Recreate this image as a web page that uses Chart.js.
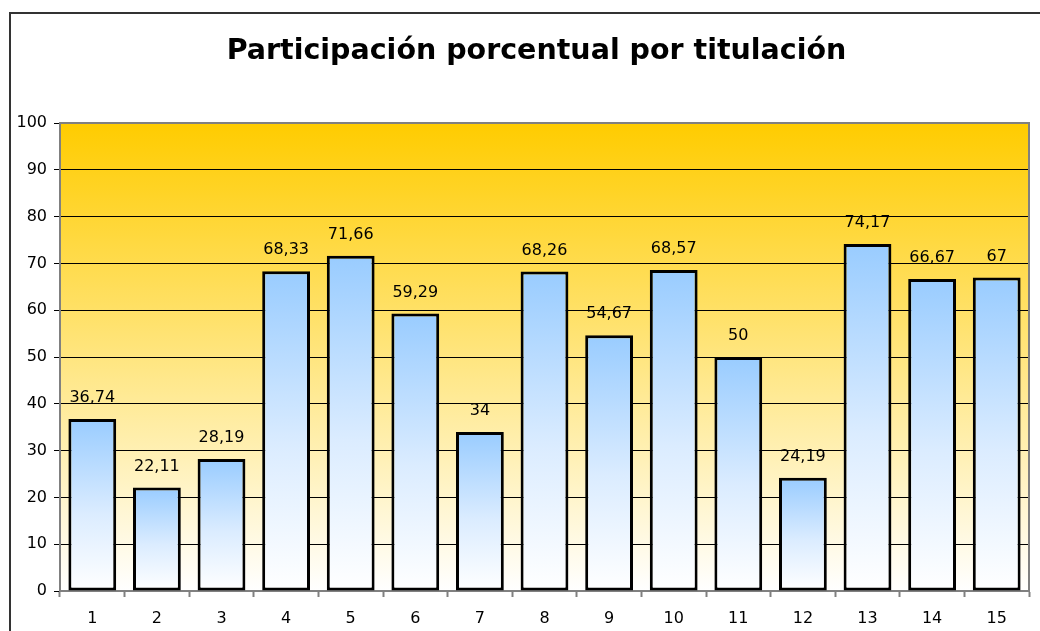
<!DOCTYPE html>
<html>
<head>
<meta charset="utf-8">
<script src="https://cdn.jsdelivr.net/npm/chart.js@4.4.1/dist/chart.umd.min.js"></script>
<style>
  html, body { margin: 0; padding: 0; background: #fff; overflow: hidden; }
</style>
</head>
<body>
<canvas id="chart" width="1040" height="631"></canvas>
<script>
// --- Data ---
const chartTitle = 'Participación porcentual por titulación';
const categories = ['1', '2', '3', '4', '5', '6', '7', '8', '9', '10', '11', '12', '13', '14', '15'];
const values = [36.74, 22.11, 28.19, 68.33, 71.66, 59.29, 34, 68.26, 54.67, 68.57, 50, 24.19, 74.17, 66.67, 67];
const yMin = 0;
const yMax = 100;
const yStep = 10;

const FONT = 'DejaVu Sans, Verdana, sans-serif';

// value labels use a decimal comma
const fmt = v => String(v).replace('.', ',');

// --- Plugins ---
const framePlugin = {
    id: 'frame',
    beforeDraw(chart) {
        const { ctx, chartArea: a } = chart;
        ctx.save();
        ctx.fillStyle = '#fff';
        ctx.fillRect(0, 0, chart.width, chart.height);
        // outer chart border (runs off the picture on right / bottom)
        ctx.strokeStyle = '#333';
        ctx.lineWidth = 2;
        ctx.strokeRect(10, 13, 1200, 800);
        // title, centred a bit right of the canvas like the original
        ctx.font = 'bold 28.5px ' + FONT;
        ctx.fillStyle = '#000';
        ctx.textAlign = 'center';
        ctx.textBaseline = 'middle';
        ctx.fillText(chartTitle, 536.5, 52);
        // plot area gradient
        const g = ctx.createLinearGradient(0, a.top, 0, a.bottom);
        g.addColorStop(0, '#ffcc00');
        g.addColorStop(1, '#ffffff');
        ctx.fillStyle = g;
        ctx.fillRect(a.left, a.top, a.right - a.left, a.bottom - a.top);
        ctx.restore();
    }
};

const plotBorderPlugin = {
    id: 'plotBorder',
    beforeDatasetsDraw(chart) {
        const { ctx, chartArea: a } = chart;
        ctx.save();
        ctx.strokeStyle = '#808080';
        ctx.lineWidth = 2;
        ctx.beginPath();
        ctx.moveTo(a.left, a.top);
        ctx.lineTo(a.right, a.top);
        ctx.lineTo(a.right, a.bottom);
        ctx.stroke();
        ctx.restore();
    }
};

const valueLabelPlugin = {
    id: 'valueLabels',
    afterDatasetsDraw(chart) {
        const { ctx } = chart;
        const meta = chart.getDatasetMeta(0);
        ctx.save();
        ctx.font = '16px ' + FONT;
        ctx.fillStyle = '#000';
        ctx.textAlign = 'center';
        ctx.textBaseline = 'middle';
        meta.data.forEach((bar, i) => {
            ctx.fillText(fmt(values[i]), bar.x, bar.y - 21);
        });
        ctx.restore();
    }
};

// per-bar blue to white gradient
function barFill(context) {
    const chart = context.chart;
    const y = chart.scales && chart.scales.y;
    if (!y || context.type !== 'data') return '#99ccff';
    const top = y.getPixelForValue(context.raw);
    const bottom = y.getPixelForValue(0);
    if (!isFinite(top) || !isFinite(bottom) || top === bottom) return '#99ccff';
    const g = chart.ctx.createLinearGradient(0, top, 0, bottom);
    g.addColorStop(0, '#99ccff');
    g.addColorStop(0.55, '#dbecff');
    g.addColorStop(1, '#ffffff');
    return g;
}

// --- Chart ---
new Chart(document.getElementById('chart'), {
    type: 'bar',
    data: {
        labels: categories,
        datasets: [{
            data: values,
            backgroundColor: barFill,
            borderColor: '#000',
            borderWidth: 3,
            borderSkipped: false,
            categoryPercentage: 1,
            barPercentage: 0.74
        }]
    },
    options: {
        responsive: false,
        animation: false,
        devicePixelRatio: 1,
        layout: { padding: { left: 0, right: 11, top: 123, bottom: 0 } },
        plugins: {
            legend: { display: false },
            tooltip: { enabled: false },
            title: { display: false }
        },
        scales: {
            x: {
                grid: { drawOnChartArea: false, tickLength: 6, tickColor: '#808080', tickWidth: 2 },
                border: { color: '#808080', width: 2 },
                ticks: { color: '#000', font: { family: FONT, size: 16 }, padding: 12, maxRotation: 0 },
                afterFit(scale) { scale.height = 40; }
            },
            y: {
                min: yMin,
                max: yMax,
                grid: { color: '#000', lineWidth: 1, tickLength: 6, tickColor: '#000' },
                border: { color: '#808080', width: 2 },
                ticks: { stepSize: yStep, color: '#000', font: { family: FONT, size: 16 }, padding: 7 },
                afterFit(scale) { scale.width = 60; }
            }
        }
    },
    plugins: [framePlugin, plotBorderPlugin, valueLabelPlugin]
});
</script>
</body>
</html>
